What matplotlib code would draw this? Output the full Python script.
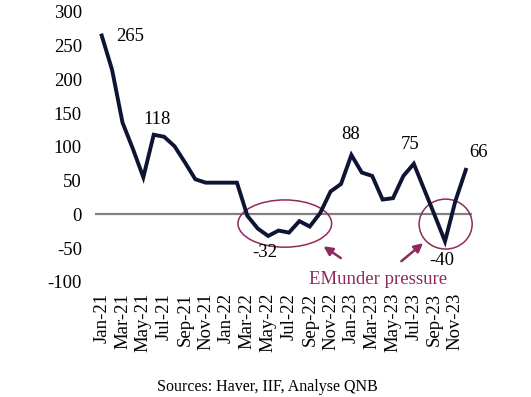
import matplotlib
matplotlib.use("Agg")
import matplotlib.pyplot as plt
from matplotlib.patches import Ellipse

plt.rcParams['font.family'] = ['Liberation Serif', 'DejaVu Serif']
plt.rcParams['axes.unicode_minus'] = False

months = ['Jan-21', 'Feb-21', 'Mar-21', 'Apr-21', 'May-21', 'Jun-21', 'Jul-21', 'Aug-21',
          'Sep-21', 'Oct-21', 'Nov-21', 'Dec-21', 'Jan-22', 'Feb-22', 'Mar-22', 'Apr-22',
          'May-22', 'Jun-22', 'Jul-22', 'Aug-22', 'Sep-22', 'Oct-22', 'Nov-22', 'Dec-22',
          'Jan-23', 'Feb-23', 'Mar-23', 'Apr-23', 'May-23', 'Jun-23', 'Jul-23', 'Aug-23',
          'Sep-23', 'Oct-23', 'Nov-23', 'Dec-23']
flows = [265, 214, 136, 97, 55, 118, 115, 101,
         77, 52, 47, 47, 47, 47, -2, -21,
         -32, -24, -27, -10, -18, 2, 34, 45,
         88, 62, 57, 22, 24, 57, 75, 37,
         -1, -40, 20, 66]
# labelled points: (month index, text, x offset, y offset)
callouts = [(0, '265', 2.7, 264), (5, '118', 5.3, 141), (16, '-32', 15.7, -57),
            (24, '88', 23.9, 118), (30, '75', 29.6, 104), (33, '-40', 32.7, -69),
            (35, '66', 36.2, 91)]

purple = '#8e2a5e'
navy = '#0e1433'

fig = plt.figure(figsize=(5.31, 3.97), dpi=100)
ax = fig.add_axes([0.179, 0.290, 0.710, 0.680])

x = list(range(len(months)))
ax.axhline(0, color='#808080', lw=1.6, zorder=1)
ax.plot(x, flows, color=navy, lw=2.8, zorder=3, solid_joinstyle='miter')

ax.set_xlim(-0.64, 35.6)
ax.set_ylim(-100, 300)
ax.set_yticks(range(-100, 301, 50))
ax.set_xticks(x[::2])
ax.set_xticklabels(months[::2], rotation=90)
ax.tick_params(axis='both', length=0, labelsize=13.5)
ax.tick_params(axis='y', pad=9.5)
ax.tick_params(axis='x', pad=8)
for s in ax.spines.values():
    s.set_visible(False)

for i, txt, tx, ty in callouts:
    ax.text(tx, ty, txt, fontsize=13.5, ha='center', va='center', clip_on=False)

ax.add_patch(Ellipse((17.6, -13.6), 9.0, 70, fill=False, ec=purple, lw=1.1, zorder=2))
ax.add_patch(Ellipse((33.06, -14.4), 5.1, 74, fill=False, ec=purple, lw=1.1, zorder=2,
                     clip_on=False))

arrow = dict(arrowstyle='-|>', color=purple, lw=1.8, mutation_scale=13)
ax.annotate('', xy=(21.1, -45), xytext=(23.2, -67), arrowprops=arrow, annotation_clip=False)
ax.annotate('', xy=(31.1, -40), xytext=(28.6, -72), arrowprops=arrow, annotation_clip=False)
ax.text(26.6, -96, 'EMunder pressure', color=purple, fontsize=13.5, ha='center', va='center',
        clip_on=False)

fig.text(267.5 / 531, 1 - 387 / 397, 'Sources: Haver, IIF, Analyse QNB', fontsize=11.5,
         ha='center', va='center')

fig.savefig('out.png', dpi=100)
